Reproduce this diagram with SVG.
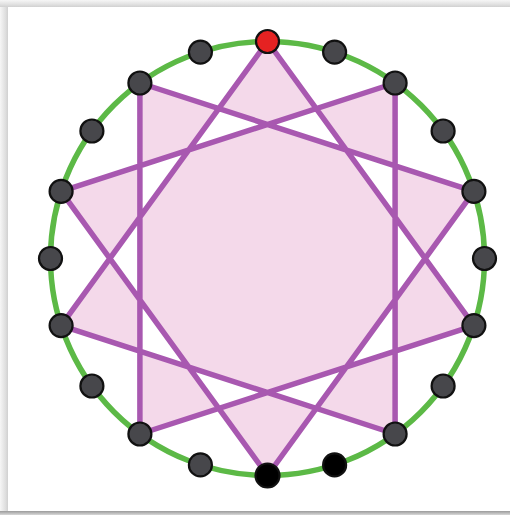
<svg xmlns="http://www.w3.org/2000/svg" width="510" height="515" viewBox="0 0 510 515">
  <style>
    .ring { fill: none; stroke: #5cb946; stroke-width: 5.5; }
    .star { fill: #f4d9ea; fill-rule: evenodd; stroke: #a858b0; stroke-width: 5.5; stroke-linejoin: round; }
    .dot { fill: #47474b; stroke: #111; stroke-width: 2.2; }
    .dot.red { fill: #e52222; }
    .dot.black { fill: #000; }
  </style>
  <defs>
    <linearGradient id="gl" x1="0" y1="0" x2="1" y2="0">
      <stop offset="0" stop-color="#f6f6f6"/>
      <stop offset="0.7" stop-color="#dedede"/>
      <stop offset="1" stop-color="#d0d0d0"/>
    </linearGradient>
    <linearGradient id="gt" x1="0" y1="0" x2="0" y2="1">
      <stop offset="0" stop-color="#f6f6f6"/>
      <stop offset="0.7" stop-color="#dedede"/>
      <stop offset="1" stop-color="#d0d0d0"/>
    </linearGradient>
    <linearGradient id="gb" x1="0" y1="0" x2="0" y2="1">
      <stop offset="0" stop-color="#9a9a9a"/>
      <stop offset="1" stop-color="#d8d8d8"/>
    </linearGradient>
  </defs>
  <rect width="510" height="515" fill="#ffffff"/>
  <g id="frame">
    <rect x="0" y="0" width="8" height="515" fill="url(#gl)"/>
    <rect x="0" y="0" width="510" height="7" fill="url(#gt)"/>
    <rect x="8" y="7" width="502" height="504" fill="#ffffff"/>
    <rect x="0" y="511" width="510" height="4" fill="url(#gb)"/>
  </g>
  <g id="ring">
    <circle class="ring" cx="267.5" cy="258.5" r="217"/>
  </g>
  <g id="connectors">
    <path class="star" d="M267.5,41.5 L473.9,325.6 L139.9,434 L139.9,83 L473.9,191.4 L267.5,475.5 L61.1,191.4 L395.1,83 L395.1,434 L61.1,325.6 Z"/>
  </g>
  <g id="n0"><circle class="dot red" cx="267.5" cy="41.5" r="11.5"/></g>
  <g id="n1"><circle class="dot" cx="334.6" cy="52.1" r="11.5"/></g>
  <g id="n2"><circle class="dot" cx="395.1" cy="83" r="11.5"/></g>
  <g id="n3"><circle class="dot" cx="443.1" cy="131" r="11.5"/></g>
  <g id="n4"><circle class="dot" cx="473.9" cy="191.4" r="11.5"/></g>
  <g id="n5"><circle class="dot" cx="484.5" cy="258.5" r="11.5"/></g>
  <g id="n6"><circle class="dot" cx="473.9" cy="325.6" r="11.5"/></g>
  <g id="n7"><circle class="dot" cx="443.1" cy="386" r="11.5"/></g>
  <g id="n8"><circle class="dot" cx="395.1" cy="434" r="11.5"/></g>
  <g id="n9"><circle class="dot black" cx="334.6" cy="464.9" r="11.5"/></g>
  <g id="n10"><circle class="dot black" cx="267.5" cy="475.5" r="12"/></g>
  <g id="n11"><circle class="dot" cx="200.4" cy="464.9" r="11.5"/></g>
  <g id="n12"><circle class="dot" cx="139.9" cy="434" r="11.5"/></g>
  <g id="n13"><circle class="dot" cx="91.9" cy="386" r="11.5"/></g>
  <g id="n14"><circle class="dot" cx="61.1" cy="325.6" r="11.5"/></g>
  <g id="n15"><circle class="dot" cx="50.5" cy="258.5" r="11.5"/></g>
  <g id="n16"><circle class="dot" cx="61.1" cy="191.4" r="11.5"/></g>
  <g id="n17"><circle class="dot" cx="91.9" cy="131" r="11.5"/></g>
  <g id="n18"><circle class="dot" cx="139.9" cy="83" r="11.5"/></g>
  <g id="n19"><circle class="dot" cx="200.4" cy="52.1" r="11.5"/></g>
</svg>
